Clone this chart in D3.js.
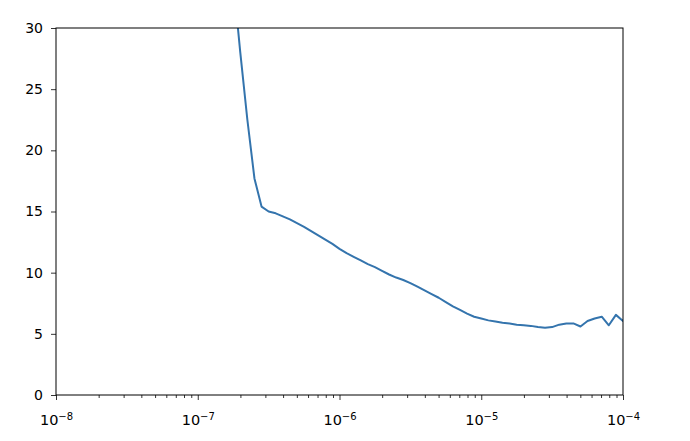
<!DOCTYPE html>
<html>
<head>
<meta charset="UTF-8">
<script src="https://cdn.jsdelivr.net/npm/d3@7"></script>
<style>
html, body { margin: 0; padding: 0; background: #fff; }
svg { font-family: 'DejaVu Sans', sans-serif; }
</style>
</head>
<body>
<script>
// learning rate sweep: lr = 1e-8 * 10^(k/20), k = 24..84
var stepStart = 24;
var lossValues = [
  40.0, 34.0, 28.0, 22.5, 17.7, 15.4, 15.0, 14.85, 14.6, 14.35,
  14.05, 13.75, 13.4, 13.05, 12.7, 12.35, 11.95, 11.6, 11.3, 11.0,
  10.7, 10.45, 10.15, 9.85, 9.6, 9.4, 9.15, 8.85, 8.55, 8.25,
  7.95, 7.6, 7.25, 6.95, 6.65, 6.4, 6.25, 6.1, 6.0, 5.9,
  5.85, 5.75, 5.7, 5.65, 5.55, 5.5, 5.55, 5.75, 5.85, 5.85,
  5.6, 6.05, 6.25, 6.4, 5.7, 6.55, 6.05, 7.2, 6.8, 7.6, 8.1
];
var lrValues = lossValues.map(function(d, i) { return 1e-8 * Math.pow(10, (stepStart + i) / 20); });

var xTicks = [1e-8, 1e-7, 1e-6, 1e-5, 1e-4];
var xTickExp = ["8", "7", "6", "5", "4"];
var yTicks = [0, 5, 10, 15, 20, 25, 30];

var width = 690, height = 441;
var plotL = 56, plotR = 623, plotT = 28, plotB = 395;

var svg = d3.select("body").append("svg")
    .attr("width", width)
    .attr("height", height);

var x = d3.scaleLog().domain([1e-8, 1e-4]).range([plotL, plotR]);
var y = d3.scaleLinear().domain([0, 30]).range([plotB, plotT]);

svg.append("defs").append("clipPath").attr("id", "plot")
  .append("rect")
    .attr("x", plotL).attr("y", plotT)
    .attr("width", plotR - plotL).attr("height", plotB - plotT);

// minor ticks
var minor = [];
for (var e = -8; e < -4; e++) {
  for (var m = 2; m <= 9; m++) minor.push(m * Math.pow(10, e));
}
svg.append("g")
    .attr("transform", "translate(0," + plotB + ")")
    .call(d3.axisBottom(x).tickValues(minor).tickSize(3).tickFormat(""))
    .call(function(g) { g.select(".domain").remove(); })
    .selectAll("line").attr("stroke", "#000").attr("stroke-width", 0.8);

// x axis
var xa = svg.append("g")
    .attr("transform", "translate(0," + plotB + ")")
    .call(d3.axisBottom(x).tickValues(xTicks).tickSize(5).tickPadding(10).tickFormat(""));
xa.select(".domain").remove();
xa.selectAll("line").attr("stroke", "#000").attr("stroke-width", 0.8);
xa.selectAll(".tick text").each(function(d, i) {
  var t = d3.select(this)
      .attr("font-size", 14.5)
      .attr("fill", "#000")
      .attr("font-family", "'DejaVu Sans', sans-serif")
      .attr("text-anchor", "middle")
      .attr("dy", "1.0em");
  t.append("tspan").text("10");
  t.append("tspan").attr("dy", "-0.45em").attr("font-size", 10).text("\u2212" + xTickExp[i]);
});

// y axis
var ya = svg.append("g")
    .attr("transform", "translate(" + plotL + ",0)")
    .call(d3.axisLeft(y).tickValues(yTicks).tickSize(5).tickPadding(8));
ya.select(".domain").remove();
ya.selectAll("line").attr("stroke", "#000").attr("stroke-width", 0.8);
ya.selectAll("text")
    .attr("font-size", 14)
    .attr("fill", "#000")
    .attr("font-family", "'DejaVu Sans', sans-serif");

// curve
var pts = lrValues.map(function(d, i) { return [d, lossValues[i]]; });
svg.append("path")
    .datum(pts)
    .attr("clip-path", "url(#plot)")
    .attr("fill", "none")
    .attr("stroke", "#3474ad")
    .attr("stroke-width", 2)
    .attr("stroke-linejoin", "round")
    .attr("d", d3.line().x(function(d) { return x(d[0]); }).y(function(d) { return y(d[1]); }));

// frame
svg.append("rect")
    .attr("x", plotL).attr("y", plotT)
    .attr("width", plotR - plotL).attr("height", plotB - plotT)
    .attr("fill", "none")
    .attr("stroke", "#000")
    .attr("stroke-width", 1);
</script>
</body>
</html>
